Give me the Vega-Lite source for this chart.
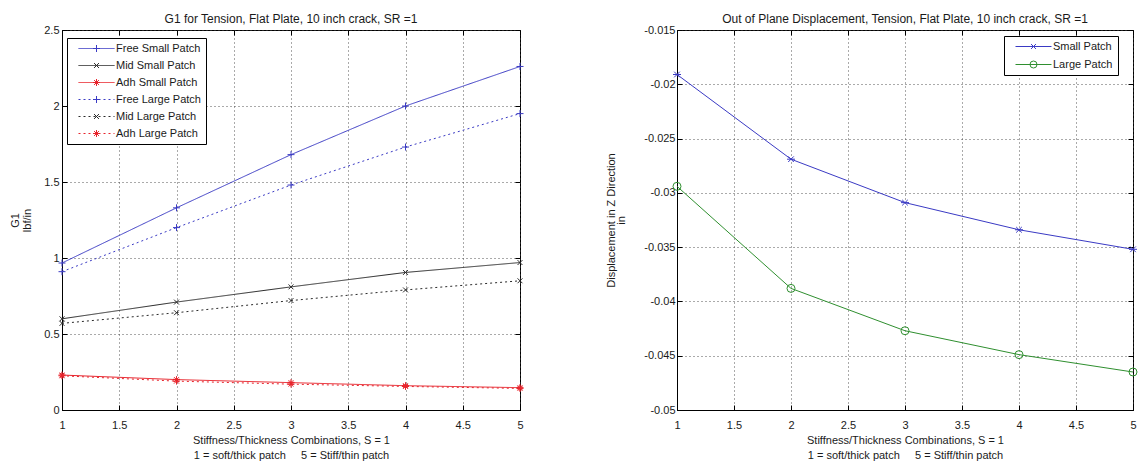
{
  "$schema": "https://vega.github.io/schema/vega-lite/v6.json",
  "background": "white",
  "padding": {"left": 9, "top": 12, "right": 4, "bottom": 4},
  "bounds": "flush",
  "spacing": 157,
  "config": {
    "font": "Liberation Sans",
    "view": {"stroke": "#000", "strokeWidth": 1},
    "axis": {
      "labelFont": "Liberation Sans", "labelFontSize": 11, "labelColor": "#1a1a1a",
      "titleFont": "Liberation Sans", "titleFontSize": 11, "titleFontWeight": "normal", "titleColor": "#1a1a1a",
      "domainColor": "#000", "tickColor": "#000", "tickSize": -5,
      "gridColor": "#444", "gridDash": [1, 3], "gridOpacity": 0.9,
      "labelFlush": false, "labelOverlap": false
    },
    "title": {"font": "Liberation Sans", "fontSize": 12, "fontWeight": "normal", "color": "#1a1a1a", "offset": -2, "anchor": "middle", "frame": "group"},
    "legend": {"labelFont": "Liberation Sans", "labelFontSize": 11, "labelColor": "#1a1a1a"}
  },
  "resolve": {
    "scale": {"color": "independent", "strokeDash": "independent", "stroke": "independent", "shape": "independent"},
    "legend": {"color": "independent", "strokeDash": "independent", "stroke": "independent", "shape": "independent"}
  },
  "hconcat": [
    {
      "width": 458, "height": 380,
      "title": "G1 for Tension, Flat Plate, 10 inch crack, SR =1",
      "data": {"values": [
        {"s": 1, "g1": 0.967, "series": "Free Small Patch"},
        {"s": 2, "g1": 1.33, "series": "Free Small Patch"},
        {"s": 3, "g1": 1.68, "series": "Free Small Patch"},
        {"s": 4, "g1": 2.0, "series": "Free Small Patch"},
        {"s": 5, "g1": 2.26, "series": "Free Small Patch"},
        {"s": 1, "g1": 0.6, "series": "Mid Small Patch"},
        {"s": 2, "g1": 0.71, "series": "Mid Small Patch"},
        {"s": 3, "g1": 0.81, "series": "Mid Small Patch"},
        {"s": 4, "g1": 0.905, "series": "Mid Small Patch"},
        {"s": 5, "g1": 0.97, "series": "Mid Small Patch"},
        {"s": 1, "g1": 0.23, "series": "Adh Small Patch"},
        {"s": 2, "g1": 0.2, "series": "Adh Small Patch"},
        {"s": 3, "g1": 0.18, "series": "Adh Small Patch"},
        {"s": 4, "g1": 0.16, "series": "Adh Small Patch"},
        {"s": 5, "g1": 0.147, "series": "Adh Small Patch"},
        {"s": 1, "g1": 0.91, "series": "Free Large Patch"},
        {"s": 2, "g1": 1.2, "series": "Free Large Patch"},
        {"s": 3, "g1": 1.48, "series": "Free Large Patch"},
        {"s": 4, "g1": 1.73, "series": "Free Large Patch"},
        {"s": 5, "g1": 1.95, "series": "Free Large Patch"},
        {"s": 1, "g1": 0.57, "series": "Mid Large Patch"},
        {"s": 2, "g1": 0.64, "series": "Mid Large Patch"},
        {"s": 3, "g1": 0.72, "series": "Mid Large Patch"},
        {"s": 4, "g1": 0.79, "series": "Mid Large Patch"},
        {"s": 5, "g1": 0.85, "series": "Mid Large Patch"},
        {"s": 1, "g1": 0.225, "series": "Adh Large Patch"},
        {"s": 2, "g1": 0.19, "series": "Adh Large Patch"},
        {"s": 3, "g1": 0.17, "series": "Adh Large Patch"},
        {"s": 4, "g1": 0.155, "series": "Adh Large Patch"},
        {"s": 5, "g1": 0.142, "series": "Adh Large Patch"}
      ]},
      "layer": [
        {
          "mark": {"type": "line", "strokeWidth": 1},
          "encoding": {
            "x": {"field": "s", "type": "quantitative", "scale": {"domain": [1, 5], "nice": false},
              "axis": {"values": [1, 1.5, 2, 2.5, 3, 3.5, 4, 4.5, 5], "labelExpr": "'' + datum.value", "labelPadding": 14,
                "title": ["Stiffness/Thickness Combinations, S = 1", "1 = soft/thick patch\u00a0\u00a0\u00a0\u00a0 5 = Stiff/thin patch"],
                "titlePadding": 4, "titleLineHeight": 15}},
            "y": {"field": "g1", "type": "quantitative", "scale": {"domain": [0, 2.5], "nice": false},
              "axis": {"values": [0, 0.5, 1, 1.5, 2, 2.5], "labelExpr": "'' + datum.value", "labelPadding": 8,
                "title": ["G1", "lbf/in"], "titlePadding": 11, "titleLineHeight": 12}},
            "color": {"field": "series", "type": "nominal",
              "scale": {"domain": ["Free Small Patch", "Mid Small Patch", "Adh Small Patch", "Free Large Patch", "Mid Large Patch", "Adh Large Patch"],
                "range": ["#3a3ac4", "#2a2a2a", "#e8242c", "#3a3ac4", "#2a2a2a", "#e8242c"]},
              "legend": {"orient": "none", "legendX": 5, "legendY": 8, "title": null, "symbolType": "M-5.14,0H5.14", "symbolSize": 49,
                "symbolStrokeWidth": 1, "symbolOffset": 19, "labelOffset": 14, "padding": 5, "rowPadding": 5,
                "strokeColor": "#000", "fillColor": "#fff", "zindex": 1}},
            "strokeDash": {"field": "series", "type": "nominal",
              "scale": {"domain": ["Free Small Patch", "Mid Small Patch", "Adh Small Patch", "Free Large Patch", "Mid Large Patch", "Adh Large Patch"],
                "range": [[1, 0], [1, 0], [1, 0], [2, 3], [2, 3], [2, 3]]},
              "legend": {"orient": "none", "legendX": 5, "legendY": 8, "title": null, "symbolType": "M-5.14,0H5.14", "symbolSize": 49,
                "symbolStrokeWidth": 1, "symbolOffset": 19, "labelOffset": 14, "padding": 5, "rowPadding": 5,
                "strokeColor": "#000", "fillColor": "#fff", "zindex": 1}}
          }
        },
        {
          "mark": {"type": "point", "filled": false, "strokeWidth": 1, "size": 49, "opacity": 1},
          "encoding": {
            "x": {"field": "s", "type": "quantitative",
              "axis": {"orient": "top", "values": [1, 1.5, 2, 2.5, 3, 3.5, 4, 4.5, 5], "labels": false, "domain": false, "grid": false, "title": null}},
            "y": {"field": "g1", "type": "quantitative",
              "axis": {"orient": "right", "values": [0, 0.5, 1, 1.5, 2, 2.5], "labels": false, "domain": false, "grid": false, "title": null}},
            "stroke": {"field": "series", "type": "nominal",
              "scale": {"domain": ["Free Small Patch", "Mid Small Patch", "Adh Small Patch", "Free Large Patch", "Mid Large Patch", "Adh Large Patch", "zz"],
                "range": ["#3a3ac4", "#2a2a2a", "#e8242c", "#3a3ac4", "#2a2a2a", "#e8242c", "transparent"]},
              "legend": {"orient": "none", "legendX": 5, "legendY": 8, "title": null, "symbolSize": 49,
                "values": ["Free Small Patch", "Mid Small Patch", "Adh Small Patch", "Free Large Patch", "Mid Large Patch", "Adh Large Patch"],
                "symbolStrokeWidth": 1, "symbolOffset": 19, "labelOffset": 14, "padding": 5, "rowPadding": 5,
                "labelOpacity": 0, "zindex": 2}},
            "shape": {"field": "series", "type": "nominal",
              "scale": {"domain": ["Free Small Patch", "Mid Small Patch", "Adh Small Patch", "Free Large Patch", "Mid Large Patch", "Adh Large Patch", "zz"],
                "range": ["M-1,0H1M0,-1V1", "M-0.7,-0.7L0.7,0.7M-0.7,0.7L0.7,-0.7", "M-1,0H1M0,-1V1M-0.7,-0.7L0.7,0.7M-0.7,0.7L0.7,-0.7",
                "M-1,0H1M0,-1V1", "M-0.7,-0.7L0.7,0.7M-0.7,0.7L0.7,-0.7", "M-1,0H1M0,-1V1M-0.7,-0.7L0.7,0.7M-0.7,0.7L0.7,-0.7", "M0,0"]},
              "legend": {"orient": "none", "legendX": 5, "legendY": 8, "title": null, "symbolSize": 49,
                "values": ["Free Small Patch", "Mid Small Patch", "Adh Small Patch", "Free Large Patch", "Mid Large Patch", "Adh Large Patch"],
                "symbolStrokeWidth": 1, "symbolOffset": 19, "labelOffset": 14, "padding": 5, "rowPadding": 5,
                "labelOpacity": 0, "zindex": 2}}
          }
        }
      ],
      "resolve": {"axis": {"x": "independent", "y": "independent"}}
    },
    {
      "width": 456, "height": 380,
      "title": "Out of Plane Displacement, Tension, Flat Plate, 10 inch crack, SR =1",
      "data": {"values": [
        {"s": 1, "d": -0.0191, "series": "Small Patch"},
        {"s": 2, "d": -0.0269, "series": "Small Patch"},
        {"s": 3, "d": -0.0309, "series": "Small Patch"},
        {"s": 4, "d": -0.0334, "series": "Small Patch"},
        {"s": 5, "d": -0.0352, "series": "Small Patch"},
        {"s": 1, "d": -0.0294, "series": "Large Patch"},
        {"s": 2, "d": -0.0388, "series": "Large Patch"},
        {"s": 3, "d": -0.0427, "series": "Large Patch"},
        {"s": 4, "d": -0.0449, "series": "Large Patch"},
        {"s": 5, "d": -0.0465, "series": "Large Patch"}
      ]},
      "layer": [
        {
          "mark": {"type": "line", "strokeWidth": 1},
          "encoding": {
            "x": {"field": "s", "type": "quantitative", "scale": {"domain": [1, 5], "nice": false},
              "axis": {"values": [1, 1.5, 2, 2.5, 3, 3.5, 4, 4.5, 5], "labelExpr": "'' + datum.value", "labelPadding": 14,
                "title": ["Stiffness/Thickness Combinations, S = 1", "1 = soft/thick patch\u00a0\u00a0\u00a0\u00a0 5 = Stiff/thin patch"],
                "titlePadding": 4, "titleLineHeight": 15}},
            "y": {"field": "d", "type": "quantitative", "scale": {"domain": [-0.05, -0.015], "nice": false, "zero": false},
              "axis": {"values": [-0.05, -0.045, -0.04, -0.035, -0.03, -0.025, -0.02, -0.015], "labelExpr": "'' + datum.value", "labelPadding": 7,
                "title": ["Displacement in Z Direction", "in"], "titlePadding": 17, "titleLineHeight": 10}},
            "color": {"field": "series", "type": "nominal",
              "scale": {"domain": ["Small Patch", "Large Patch"], "range": ["#3a3ac4", "#2f8f2f"]},
              "legend": {"orient": "none", "legendX": 327, "legendY": 6, "title": null, "symbolType": "M-5.14,0H5.14", "symbolSize": 49,
                "symbolStrokeWidth": 1, "symbolOffset": 19, "labelOffset": 14, "padding": 5, "rowPadding": 6,
                "strokeColor": "#000", "fillColor": "#fff", "zindex": 1}}
          }
        },
        {
          "mark": {"type": "point", "filled": false, "strokeWidth": 1, "size": 64, "opacity": 1},
          "encoding": {
            "x": {"field": "s", "type": "quantitative",
              "axis": {"orient": "top", "values": [1, 1.5, 2, 2.5, 3, 3.5, 4, 4.5, 5], "labels": false, "domain": false, "grid": false, "title": null}},
            "y": {"field": "d", "type": "quantitative",
              "axis": {"orient": "right", "values": [-0.05, -0.045, -0.04, -0.035, -0.03, -0.025, -0.02, -0.015], "labels": false, "domain": false, "grid": false, "title": null}},
            "stroke": {"field": "series", "type": "nominal",
              "scale": {"domain": ["Small Patch", "Large Patch", "zz"], "range": ["#3a3ac4", "#2f8f2f", "transparent"]},
              "legend": {"orient": "none", "legendX": 327, "legendY": 6, "title": null, "symbolSize": 49, "values": ["Small Patch", "Large Patch"],
                "symbolStrokeWidth": 1, "symbolOffset": 19, "labelOffset": 14, "padding": 5, "rowPadding": 6,
                "labelOpacity": 0, "zindex": 2}},
            "shape": {"field": "series", "type": "nominal",
              "scale": {"domain": ["Small Patch", "Large Patch", "zz"], "range": ["M-0.7,-0.7L0.7,0.7M-0.7,0.7L0.7,-0.7M-1,0H1", "circle", "M0,0"]},
              "legend": {"orient": "none", "legendX": 327, "legendY": 6, "title": null, "symbolSize": 49, "values": ["Small Patch", "Large Patch"],
                "symbolStrokeWidth": 1, "symbolOffset": 19, "labelOffset": 14, "padding": 5, "rowPadding": 6,
                "labelOpacity": 0, "zindex": 2}}
          }
        }
      ],
      "resolve": {"axis": {"x": "independent", "y": "independent"}}
    }
  ]
}
